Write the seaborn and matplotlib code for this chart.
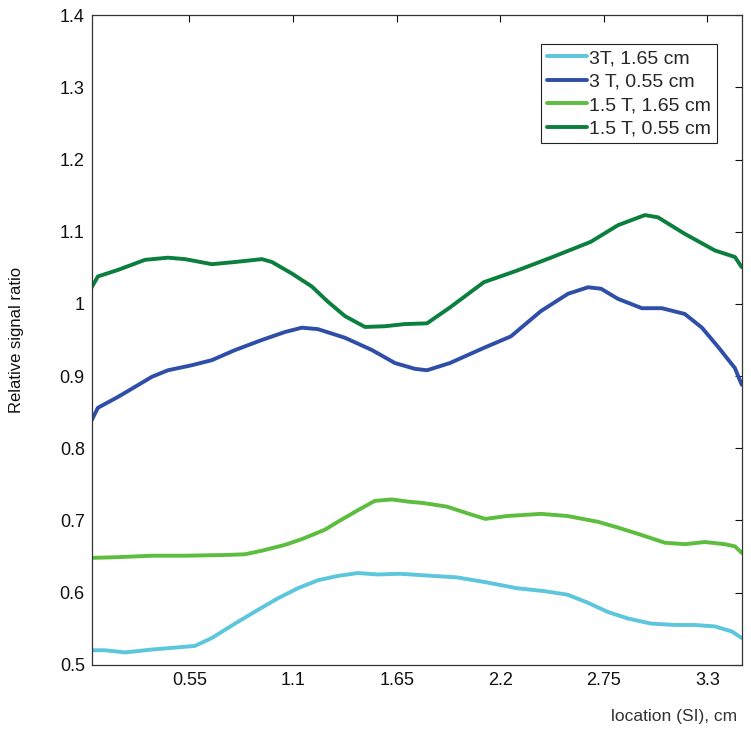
import matplotlib
matplotlib.use("Agg")
import matplotlib.pyplot as plt
import numpy as np
import pandas as pd
import seaborn as sns

# series (location in cm, relative signal ratio)
x_3t_165 = [0.031, 0.101, 0.208, 0.351, 0.489, 0.579, 0.669, 0.792, 0.914, 1.020, 1.126,
            1.232, 1.338, 1.444, 1.550, 1.667, 1.845, 1.970, 2.129, 2.288, 2.432, 2.557,
            2.664, 2.772, 2.878, 3.000, 3.128, 3.233, 3.340, 3.430, 3.482]
y_3t_165 = [0.520, 0.520, 0.517, 0.521, 0.524, 0.526, 0.537, 0.557, 0.576, 0.592, 0.606,
            0.617, 0.623, 0.627, 0.625, 0.626, 0.623, 0.621, 0.614, 0.606, 0.602, 0.597,
            0.586, 0.573, 0.564, 0.557, 0.555, 0.555, 0.553, 0.546, 0.537]

x_3t_055 = [0.031, 0.064, 0.170, 0.261, 0.351, 0.436, 0.563, 0.669, 0.792, 0.935, 1.057,
            1.147, 1.232, 1.376, 1.519, 1.641, 1.747, 1.811, 1.933, 2.113, 2.257, 2.416,
            2.560, 2.666, 2.735, 2.825, 2.952, 3.058, 3.180, 3.271, 3.361, 3.446, 3.482]
y_3t_055 = [0.839, 0.856, 0.871, 0.885, 0.899, 0.908, 0.915, 0.922, 0.936, 0.950, 0.961,
            0.967, 0.965, 0.953, 0.936, 0.918, 0.910, 0.908, 0.918, 0.939, 0.955, 0.990,
            1.014, 1.023, 1.021, 1.007, 0.994, 0.994, 0.986, 0.967, 0.939, 0.911, 0.888]

x_15t_165 = [0.031, 0.170, 0.351, 0.526, 0.738, 0.845, 0.935, 1.057, 1.147, 1.269, 1.338,
             1.444, 1.534, 1.625, 1.709, 1.792, 1.917, 2.023, 2.121, 2.236, 2.416, 2.557,
             2.719, 2.825, 2.947, 3.074, 3.180, 3.286, 3.392, 3.446, 3.482]
y_15t_165 = [0.648, 0.649, 0.651, 0.651, 0.652, 0.653, 0.658, 0.666, 0.674, 0.687, 0.698,
             0.714, 0.727, 0.729, 0.726, 0.724, 0.719, 0.710, 0.702, 0.706, 0.709, 0.706,
             0.698, 0.690, 0.680, 0.669, 0.667, 0.670, 0.667, 0.664, 0.655]

x_15t_055 = [0.031, 0.064, 0.170, 0.314, 0.436, 0.526, 0.669, 0.792, 0.935, 0.988, 1.094,
             1.200, 1.285, 1.376, 1.482, 1.588, 1.694, 1.811, 1.933, 2.113, 2.288, 2.469,
             2.681, 2.825, 2.968, 3.037, 3.180, 3.340, 3.446, 3.482]
y_15t_055 = [1.023, 1.038, 1.047, 1.061, 1.064, 1.062, 1.055, 1.058, 1.062, 1.058, 1.042,
             1.024, 1.003, 0.983, 0.968, 0.969, 0.972, 0.973, 0.995, 1.030, 1.046, 1.064,
             1.086, 1.109, 1.123, 1.120, 1.097, 1.074, 1.065, 1.051]

labels = ['3T, 1.65 cm', '3 T, 0.55 cm', '1.5 T, 1.65 cm', '1.5 T, 0.55 cm']
colors = ['#5CC6DC', '#2F4EA8', '#5DBD3E', '#0B7F3E']
xticks = [0.55, 1.1, 1.65, 2.2, 2.75, 3.3]
xtick_labels = ['0.55', '1.1', '1.65', '2.2', '2.75', '3.3']
yticks = [0.5, 0.6, 0.7, 0.8, 0.9, 1.0, 1.1, 1.2, 1.3, 1.4]
ytick_labels = ['0.5', '0.6', '0.7', '0.8', '0.9', '1', '1.1', '1.2', '1.3', '1.4']

sns.set_style('white')
plt.rcParams['font.family'] = ['Liberation Sans', 'DejaVu Sans']

fig = plt.figure(figsize=(7.51, 7.46), dpi=100)
ax = fig.add_axes([0.1221, 0.109, 0.8655, 0.8706])

series = [(x_3t_165, y_3t_165), (x_3t_055, y_3t_055),
          (x_15t_165, y_15t_165), (x_15t_055, y_15t_055)]
for (xs, ys), lab, col in zip(series, labels, colors):
    sns.lineplot(x=xs, y=ys, ax=ax, color=col, linewidth=2.8, label=lab, sort=False)

ax.set_xlim(0.031, 3.482)
ax.set_ylim(0.5, 1.4)
ax.set_xticks(xticks)
ax.set_xticklabels(xtick_labels)
ax.set_yticks(yticks)
ax.set_yticklabels(ytick_labels)
ax.tick_params(direction='in', length=5, width=0.8, top=True, right=True,
               labelsize=13, colors='#111111', pad=5)
for sp in ax.spines.values():
    sp.set_color('#333333')
    sp.set_linewidth(0.9)

ax.set_ylabel('Relative signal ratio', fontsize=12, color='#111111')
ax.yaxis.set_label_coords(-0.104, 0.5)
ax.set_xlabel('location (SI), cm', fontsize=12.5, color='#333333', ha='right')
ax.xaxis.set_label_coords(0.993, -0.068)

leg = ax.legend(loc='upper right', bbox_to_anchor=(0.962, 0.956), fontsize=14,
                frameon=True, fancybox=False, framealpha=1, edgecolor='#222222',
                handlelength=2.1, handletextpad=0.1, labelspacing=0.3,
                borderpad=0.3, borderaxespad=0)
leg.get_frame().set_linewidth(0.8)

fig.savefig('out.png', dpi=100)
